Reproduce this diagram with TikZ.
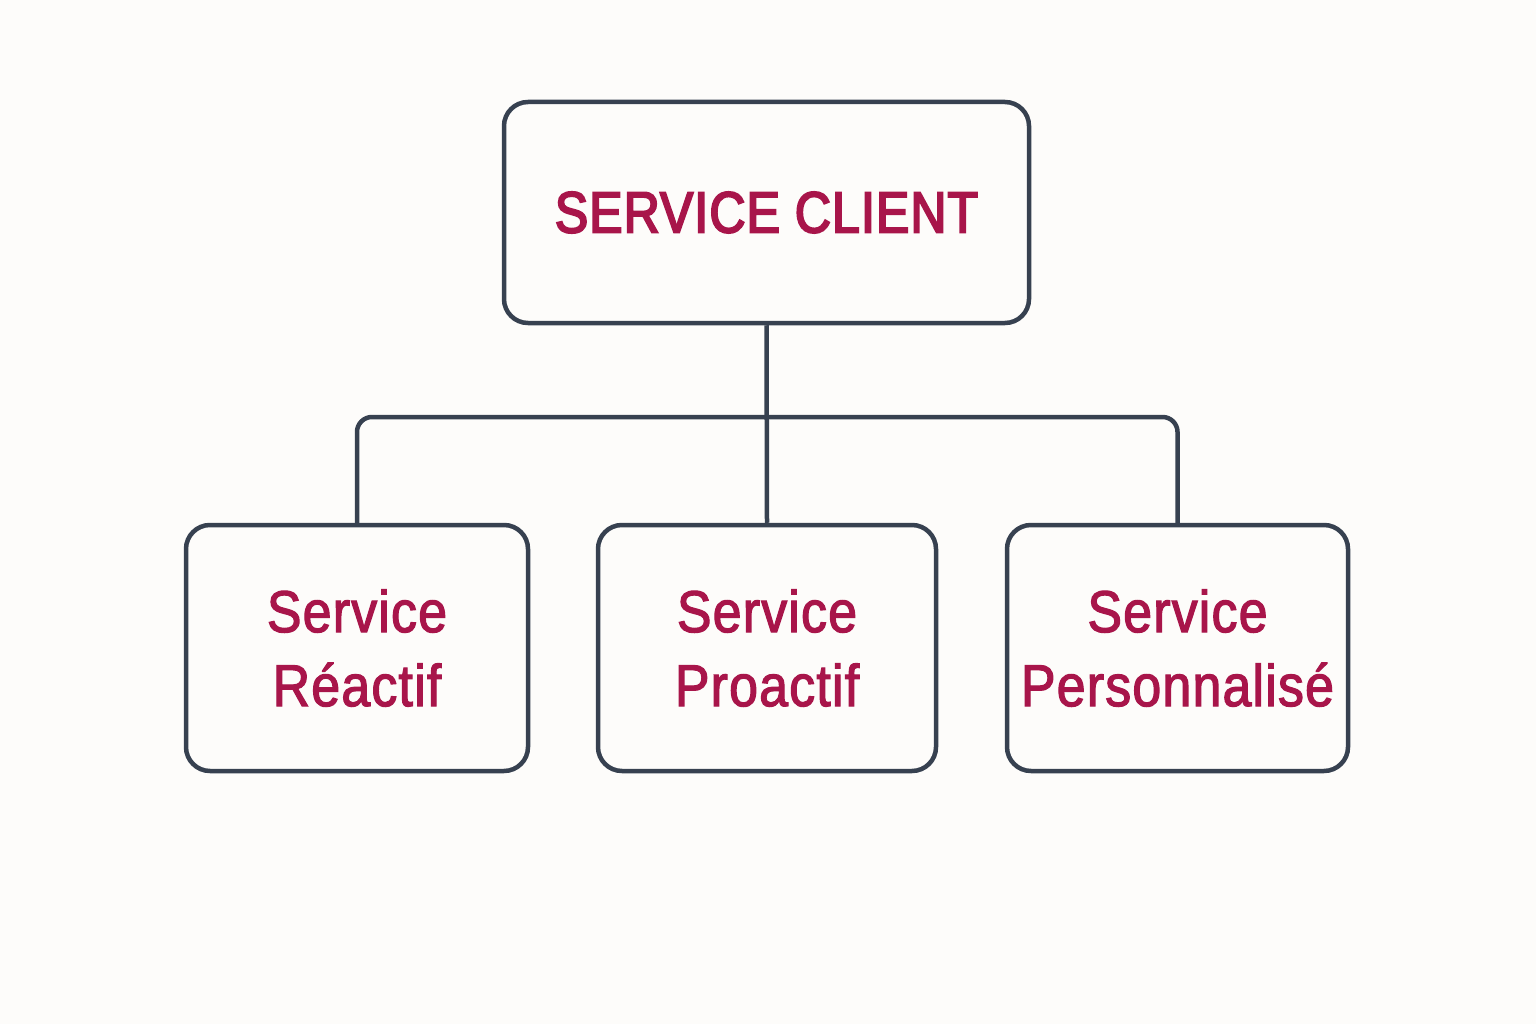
\documentclass[tikz,border=0pt]{standalone}
\usepackage{fontspec}
\setmainfont{Liberation Sans}
\newfontfamily\titlefont[FakeStretch=0.86,FakeBold=3.5,LetterSpace=2]{Liberation Sans}
\newfontfamily\labelfont[FakeStretch=0.88,FakeBold=2,LetterSpace=2]{Liberation Sans}
\definecolor{bg}{HTML}{FDFCFA}
\definecolor{edge}{HTML}{374150}
\definecolor{txt}{HTML}{A8154A}
\begin{document}
\begin{tikzpicture}[x=1pt,y=-1pt,
  box/.style={draw=edge, line width=4.5pt, rounded corners=24pt, fill=bg, text=txt, align=center, inner sep=0pt},
  conn/.style={draw=edge, line width=4.5pt, rounded corners=15pt}]
\fill[bg] (0,0) rectangle (1536,1024);
\useasboundingbox (0,0) rectangle (1536,1024);
\node[box, minimum width=525pt, minimum height=221pt, font=\titlefont\fontsize{58}{70}\selectfont] (top) at (766.5,212.5) {SERVICE CLIENT};
\node[box, minimum width=342pt, minimum height=246pt, font=\labelfont\fontsize{59}{74}\selectfont] (b1) at (357,648) {Service\\Réactif};
\node[box, minimum width=338pt, minimum height=246pt, font=\labelfont\fontsize{59}{74}\selectfont] (b2) at (767,648) {Service\\Proactif};
\node[box, minimum width=341pt, minimum height=246pt, font=\labelfont\fontsize{59}{74}\selectfont] (b3) at (1177.5,648) {Service\\Personnalisé};
\coordinate (bar) at (766.5,417);
\draw[conn] (top.south) -- (b2.north);
\draw[conn] (b1.north) |- (bar) -| (b3.north);
\end{tikzpicture}
\end{document}
